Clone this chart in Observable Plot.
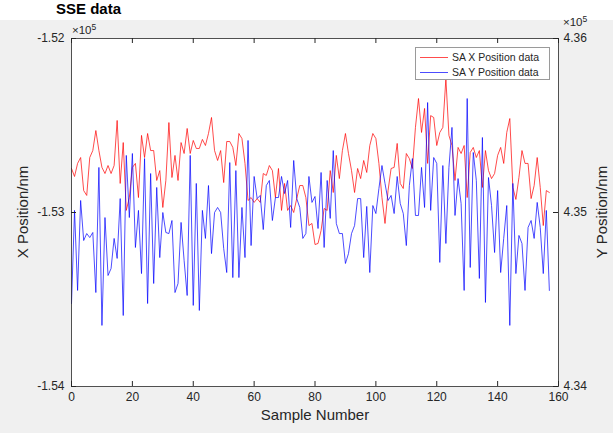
<!DOCTYPE html>
<html><head><meta charset="utf-8">
<script src="https://cdn.jsdelivr.net/npm/d3@7"></script>
<script src="https://cdn.jsdelivr.net/npm/@observablehq/plot@0.6"></script>
<style>
html,body{margin:0;padding:0;}
body{width:613px;height:433px;background:#f0f0f0;position:relative;overflow:hidden;font-family:"Liberation Sans",Arial,Helvetica,sans-serif;color:#262626;}
#topband{position:absolute;left:0;top:0;width:613px;height:20px;background:#fff;overflow:hidden;}
#title{position:absolute;left:56px;top:1px;font-size:15px;line-height:16px;font-weight:bold;color:#000;white-space:nowrap;}
#chart{position:absolute;left:0;top:20px;}
.lab{position:absolute;font-size:15px;white-space:nowrap;color:#262626;}
.exp{position:absolute;font-size:11.5px;white-space:nowrap;color:#262626;}
.exp sup{font-size:8.5px;vertical-align:4px;}
#legend{position:absolute;left:415px;top:47px;width:133px;height:31px;background:#fff;border:1px solid #9a9a9a;font-size:10.5px;}
.row{position:absolute;left:4px;height:14px;display:flex;align-items:center;}
.sw{width:28px;height:0;border-top:1px solid;margin-right:4px;}
</style></head>
<body>
<div id="topband"><div id="title">SSE data</div></div>
<div id="chart"></div>
<div class="exp" style="left:72px;top:22px">×10<sup>5</sup></div>
<div class="exp" style="left:563px;top:14px">×10<sup>5</sup></div>
<div class="lab" style="left:315px;top:406px;transform:translateX(-50%)">Sample Number</div>
<div class="lab" style="left:22px;top:212px;transform:translate(-50%,-50%) rotate(-90deg)">X Position/nm</div>
<div class="lab" style="left:601px;top:212px;transform:translate(-50%,-50%) rotate(-90deg)">Y Position/nm</div>
<div id="legend"></div>
<script>
const seriesNames = ["SA X Position data", "SA Y Position data"];
const seriesColors = ["#ff0000", "#0000ff"];
const xTicks = [0, 20, 40, 60, 80, 100, 120, 140, 160];
const leftLimits = [-154000, -152000];
const rightLimits = [434000, 436000];
const leftTicks = [-154000, -153000, -152000];
const rightTicks = [434000, 435000, 436000];

const xPosition = [
-152747,-152793,-152718,-152684,-152874,-152902,-152684,-152644,-152529,-152644,
-152741,-152776,-152730,-152776,-152730,-152471,-152833,-152598,-152988,-152914,
-152741,-152718,-152914,-152557,-152684,-152546,-152644,-152644,-152816,-152759,
-152971,-152816,-152483,-152799,-152672,-152816,-152598,-152661,-152517,-152661,
-152586,-152632,-152632,-152580,-152615,-152546,-152454,-152644,-152701,-152644,
-152828,-152592,-152592,-152626,-152730,-152546,-152575,-152718,-152931,-152914,
-152942,-152920,-152942,-152776,-152787,-152730,-152759,-152914,-152747,-152988,
-152833,-152988,-152960,-153000,-152920,-152845,-152845,-152914,-153075,-153063,
-153184,-153178,-153103,-152977,-152988,-152759,-152885,-152672,-152805,-152644,
-152546,-152661,-152759,-152885,-152747,-152805,-152701,-152770,-152615,-152546,
-152575,-152718,-152914,-153063,-152874,-152747,-152741,-152603,-152833,-152862,
-152661,-152690,-152747,-152511,-152345,-152540,-152402,-152718,-152443,-152454,
-152615,-152540,-152511,-152230,-152557,-152615,-152816,-152626,-152661,-152615,
-152914,-152655,-152626,-152684,-152644,-152856,-152644,-152759,-152805,-152776,
-152672,-152626,-152718,-152540,-152460,-152856,-152925,-152799,-152644,-152718,
-152718,-152920,-152845,-152684,-152856,-153075,-152874,-152885
];
const yPosition = [
434477,435012,434552,435069,434839,434879,434856,434885,434540,435259,
434351,434971,434638,434678,434851,434736,435080,434408,435328,434971,
435339,434799,435012,434649,435310,434477,435224,434592,435144,434741,
435000,434885,434879,434954,434540,434592,434943,434724,434523,435328,
434466,435167,434437,435012,434851,435155,434764,435000,435029,435000,
434793,434655,435287,434626,435241,434626,435029,434741,435414,434810,
435207,435080,435098,434902,435155,435184,434954,435086,435086,435207,
435109,435184,434914,435299,435080,435029,434851,434879,435207,435058,
435092,434908,435230,434799,435184,434966,435356,434937,434879,434879,
434707,434764,434879,434925,435080,435080,434741,435035,434655,435040,
434994,435138,435270,435167,435069,435098,434994,435207,435052,434994,
434810,435155,435310,434983,434983,435259,435029,435632,435012,435316,
435282,434713,435270,434822,435259,435489,434983,435195,435052,434552,
435655,434684,435345,435184,434621,435431,434483,435201,435040,434770,
435126,434655,434851,435040,434351,435167,434649,434868,434822,434552,
434914,434954,434851,435058,434914,434649,435012,434552
];

const sampleNumber = xPosition.map((_, i) => i);
const data = sampleNumber.map((s, i) => ({s, X: xPosition[i], Y: yPosition[i]}));

const lSpan = leftLimits[1] - leftLimits[0];
const rSpan = rightLimits[1] - rightLimits[0];
const toLeft = v => leftLimits[0] + (v - rightLimits[0]) * lSpan / rSpan;
const toRight = v => rightLimits[0] + (v - leftLimits[0]) * rSpan / lSpan;
const axisColor = "#262626";
const tickFont = 12;

const chart = Plot.plot({
  width: 613, height: 413,
  marginTop: 18, marginBottom: 47, marginLeft: 71, marginRight: 55,
  style: {background: "transparent", fontFamily: "'Liberation Sans', Arial, Helvetica, sans-serif", fontSize: "12px", color: axisColor},
  x: {domain: [xTicks[0], xTicks[xTicks.length - 1]]},
  y: {domain: leftLimits},
  marks: [
    Plot.frame({fill: "white", stroke: null}),
    Plot.line(data, {x: "s", y: "X", stroke: seriesColors[0], strokeWidth: 1, strokeOpacity: 0.7}),
    Plot.line(data, {x: "s", y: d => toLeft(d.Y), stroke: seriesColors[1], strokeWidth: 1, strokeOpacity: 0.7}),
    Plot.tickX(xTicks, {x: d => d, insetTop: 343, stroke: axisColor}),
    Plot.tickX(xTicks, {x: d => d, insetBottom: 343, stroke: axisColor}),
    Plot.tickY(leftTicks, {y: d => d, insetRight: 482, stroke: axisColor}),
    Plot.tickY(rightTicks.map(toLeft), {y: d => d, insetLeft: 482, stroke: axisColor}),
    Plot.axisX({ticks: xTicks, tickSize: 0, tickPadding: 6, fontSize: tickFont, label: null, tickFormat: d => String(d)}),
    Plot.axisY({anchor: "left", ticks: leftTicks, tickSize: 0, tickPadding: 7, fontSize: tickFont, label: null, tickFormat: d => (d / 1e5).toFixed(2)}),
    Plot.axisY({anchor: "right", ticks: rightTicks.map(toLeft), tickSize: 0, tickPadding: 5, fontSize: tickFont, label: null, tickFormat: d => (toRight(d) / 1e5).toFixed(2)}),
    Plot.frame({stroke: axisColor, strokeOpacity: 0.8})
  ]
});
document.getElementById("chart").appendChild(chart);

const legend = document.getElementById("legend");
seriesNames.forEach((name, i) => {
  const row = document.createElement("div");
  row.className = "row";
  row.style.top = (2 + i * 15) + "px";
  const sw = document.createElement("div");
  sw.className = "sw";
  sw.style.borderColor = seriesColors[i];
  sw.style.opacity = 0.7;
  const t = document.createElement("span");
  t.textContent = name;
  row.appendChild(sw); row.appendChild(t);
  legend.appendChild(row);
});
</script>
</body></html>
